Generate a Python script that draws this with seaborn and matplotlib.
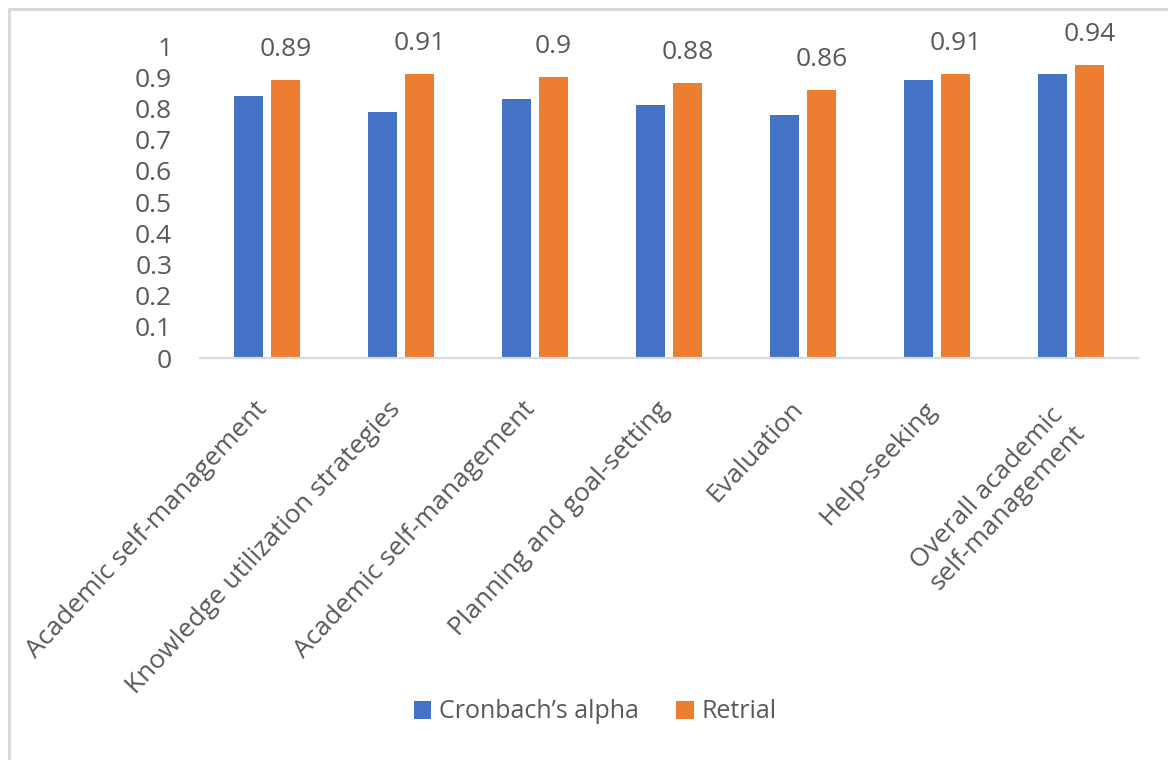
import numpy as np
import pandas as pd
import matplotlib
matplotlib.use("Agg")
import matplotlib.pyplot as plt
import matplotlib.transforms as mtransforms
from matplotlib.patches import Patch
from matplotlib.lines import Line2D
import seaborn as sns

# Reliability of each subscale
categories = [
    "Academic self-management",
    "Knowledge utilization strategies",
    "Academic self-management",
    "Planning and goal-setting",
    "Evaluation",
    "Help-seeking",
    "Overall academic\nself-management",
]
cronbach_alpha = [0.84, 0.79, 0.83, 0.81, 0.78, 0.89, 0.91]
retrial = [0.89, 0.91, 0.90, 0.88, 0.86, 0.91, 0.94]
series_names = ["Cronbach\u2019s alpha", "Retrial"]
series_colors = ["#4472C4", "#ED7D31"]
y_ticks = [0, 0.1, 0.2, 0.3, 0.4, 0.5, 0.6, 0.7, 0.8, 0.9, 1]

text_color = "#595959"
line_color = "#D9D9D9"

sns.set_theme(style="white")
plt.rcParams["font.family"] = ["Open Sans", "DejaVu Sans"]

# long-form table; the position index keeps the duplicated category names apart
n = len(categories)
df = pd.DataFrame({
    "pos": list(range(n)) * 2,
    "value": cronbach_alpha + retrial,
    "series": [series_names[0]] * n + [series_names[1]] * n,
})

fig = plt.figure(figsize=(11.68, 7.6), dpi=100)
ax = fig.add_axes([200 / 1168, 1 - 358 / 760, (1138 - 200) / 1168, (358 - 46) / 760])

sns.barplot(
    data=df, x="pos", y="value", hue="series", hue_order=series_names,
    palette=series_colors, width=0.55, gap=0.21, order=list(range(n)),
    legend=False, ax=ax, saturation=1, linewidth=0,
)

ax.set_xlim(-0.5, n - 0.5)
ax.set_ylim(0, 1)
ax.set_xlabel("")
ax.set_ylabel("")

# value labels on the retrial bars
ax.bar_label(ax.containers[1], fmt="{:g}", padding=13, fontsize=19,
             color=text_color, clip_on=False)

# y axis: labels only, no line or ticks
ax.set_yticks(y_ticks)
ax.set_yticklabels([f"{t:g}" for t in y_ticks], fontsize=19, color=text_color)
ax.tick_params(axis="y", length=0, pad=20)

# x axis: rotated category names
ax.set_xticks(range(n))
ax.set_xticklabels(categories, rotation=47, ha="right", va="center",
                   rotation_mode="anchor", fontsize=19, color=text_color,
                   multialignment="center")
ax.tick_params(axis="x", length=0, pad=34)
for lbl in ax.get_xticklabels():
    if "\n" in lbl.get_text():
        dx, dy = 0, -14
    else:
        dx, dy = -4, 0
    shift = mtransforms.ScaledTranslation(dx / 100, dy / 100, fig.dpi_scale_trans)
    lbl.set_transform(lbl.get_transform() + shift)

for side in ["left", "right", "top"]:
    ax.spines[side].set_visible(False)
ax.spines["bottom"].set_color(line_color)
ax.spines["bottom"].set_linewidth(1.6)
ax.grid(False)

# legend under the chart
handles = [Patch(facecolor=c, edgecolor="none") for c in series_colors]
fig.legend(handles, series_names, loc="center", ncol=2,
           bbox_to_anchor=(595 / 1168, 1 - 712 / 760), frameon=False,
           fontsize=18, labelcolor=text_color, handlelength=0.7,
           handleheight=0.7, handletextpad=0.3, columnspacing=1.5)

# chart frame border (top and left edges)
x0 = 9 / 1168
y0 = 1 - 8.5 / 760
fig.add_artist(Line2D([x0, 1.0], [y0, y0], transform=fig.transFigure,
                      color=line_color, linewidth=2.2))
fig.add_artist(Line2D([x0, x0], [0.0, y0], transform=fig.transFigure,
                      color=line_color, linewidth=2.2))

fig.savefig("out.png", dpi=100, facecolor="white")
